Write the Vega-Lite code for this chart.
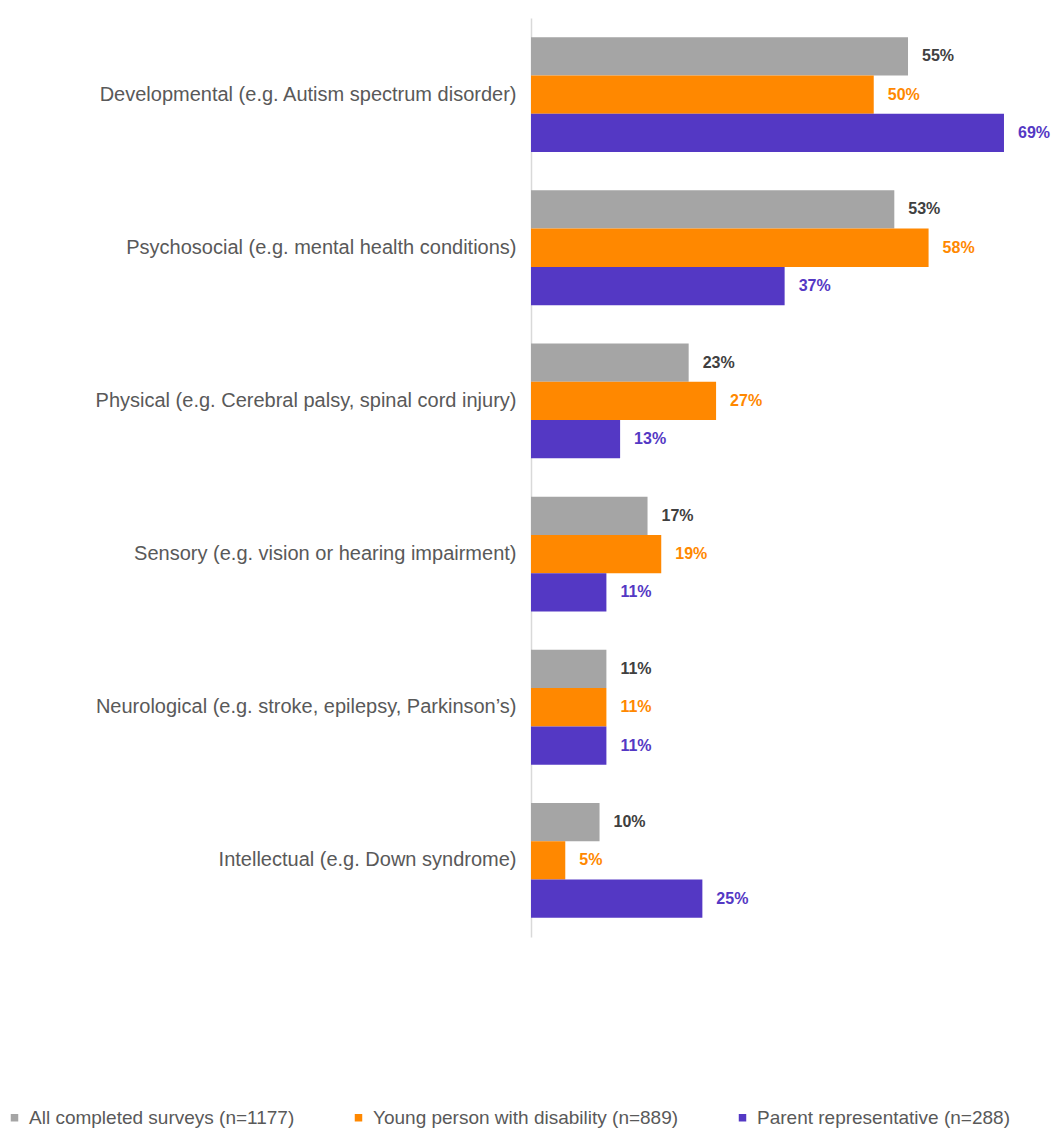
{
  "$schema": "https://vega.github.io/schema/vega-lite/v6.json",
  "autosize": "none",
  "padding": {"left": 531, "top": 18, "right": 13, "bottom": 191},
  "width": 510,
  "height": 919,
  "background": "white",
  "config": {"view": {"stroke": null}, "font": "Liberation Sans"},
  "data": {"values": [
    {"category": "Developmental (e.g. Autism spectrum disorder)", "group": "All completed surveys (n=1177)", "value": 0.55},
    {"category": "Developmental (e.g. Autism spectrum disorder)", "group": "Young person with disability (n=889)", "value": 0.50},
    {"category": "Developmental (e.g. Autism spectrum disorder)", "group": "Parent representative (n=288)", "value": 0.69},
    {"category": "Psychosocial (e.g. mental health conditions)", "group": "All completed surveys (n=1177)", "value": 0.53},
    {"category": "Psychosocial (e.g. mental health conditions)", "group": "Young person with disability (n=889)", "value": 0.58},
    {"category": "Psychosocial (e.g. mental health conditions)", "group": "Parent representative (n=288)", "value": 0.37},
    {"category": "Physical (e.g. Cerebral palsy, spinal cord injury)", "group": "All completed surveys (n=1177)", "value": 0.23},
    {"category": "Physical (e.g. Cerebral palsy, spinal cord injury)", "group": "Young person with disability (n=889)", "value": 0.27},
    {"category": "Physical (e.g. Cerebral palsy, spinal cord injury)", "group": "Parent representative (n=288)", "value": 0.13},
    {"category": "Sensory (e.g. vision or hearing impairment)", "group": "All completed surveys (n=1177)", "value": 0.17},
    {"category": "Sensory (e.g. vision or hearing impairment)", "group": "Young person with disability (n=889)", "value": 0.19},
    {"category": "Sensory (e.g. vision or hearing impairment)", "group": "Parent representative (n=288)", "value": 0.11},
    {"category": "Neurological (e.g. stroke, epilepsy, Parkinson’s)", "group": "All completed surveys (n=1177)", "value": 0.11},
    {"category": "Neurological (e.g. stroke, epilepsy, Parkinson’s)", "group": "Young person with disability (n=889)", "value": 0.11},
    {"category": "Neurological (e.g. stroke, epilepsy, Parkinson’s)", "group": "Parent representative (n=288)", "value": 0.11},
    {"category": "Intellectual (e.g. Down syndrome)", "group": "All completed surveys (n=1177)", "value": 0.10},
    {"category": "Intellectual (e.g. Down syndrome)", "group": "Young person with disability (n=889)", "value": 0.05},
    {"category": "Intellectual (e.g. Down syndrome)", "group": "Parent representative (n=288)", "value": 0.25}
  ]},
  "encoding": {
    "y": {
      "field": "category", "type": "nominal", "sort": null,
      "scale": {"paddingInner": 0.25, "paddingOuter": 0.125},
      "axis": {"title": null, "ticks": false, "labelPadding": 15, "labelFontSize": 20, "labelColor": "#595959", "labelLimit": 530, "domainColor": "#D9D9D9", "domainWidth": 1.5}
    },
    "yOffset": {"field": "group", "type": "nominal", "sort": ["All completed surveys (n=1177)", "Young person with disability (n=889)", "Parent representative (n=288)"]},
    "x": {"field": "value", "type": "quantitative", "scale": {"domain": [0, 0.744], "nice": false}, "axis": null}
  },
  "layer": [
    {
      "mark": {"type": "bar"},
      "encoding": {
        "color": {
          "field": "group", "type": "nominal",
          "sort": ["All completed surveys (n=1177)", "Young person with disability (n=889)", "Parent representative (n=288)"],
          "scale": {"domain": ["All completed surveys (n=1177)", "Young person with disability (n=889)", "Parent representative (n=288)"], "range": ["#A5A5A5", "#FF8800", "#5438C4"]},
          "legend": {"title": null, "orient": "none", "direction": "horizontal", "legendX": -526, "legendY": 1090, "padding": 0, "symbolType": "square", "symbolSize": 56, "symbolStrokeWidth": 0, "labelFontSize": 19, "labelColor": "#595959", "columnPadding": 54, "labelOffset": 5, "labelLimit": 400}
        }
      }
    },
    {
      "mark": {"type": "text", "align": "left", "dx": 14, "fontSize": 16, "fontWeight": "bold"},
      "encoding": {
        "text": {"field": "value", "type": "quantitative", "format": ".0%"},
        "color": {"field": "group", "type": "nominal", "legend": null,
          "scale": {"domain": ["All completed surveys (n=1177)", "Young person with disability (n=889)", "Parent representative (n=288)"], "range": ["#404040", "#FF8800", "#5438C4"]}}
      }
    }
  ],
  "resolve": {"scale": {"color": "independent"}}
}
